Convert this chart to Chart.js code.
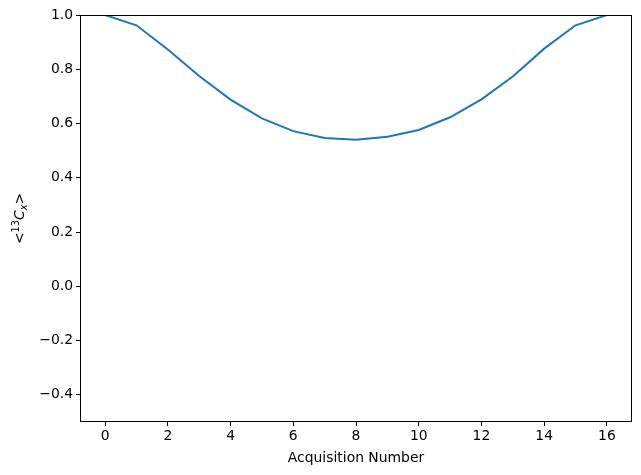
<!DOCTYPE html>
<html>
<head>
<meta charset="utf-8">
<script src="https://cdn.jsdelivr.net/npm/chart.js@4"></script>
<style>
  html, body { margin: 0; padding: 0; background: #fff; }
  #wrap { width: 641px; height: 475px; }
</style>
</head>
<body>
<div id="wrap"><canvas id="chart" width="641" height="475"></canvas></div>
<script>
// Data
const acquisitions = [0, 1, 2, 3, 4, 5, 6, 7, 8, 9, 10, 11, 12, 13, 14, 15, 16];
const cxValues = [1.0, 0.962, 0.873, 0.775, 0.688, 0.619, 0.572, 0.547, 0.540, 0.551, 0.576, 0.623, 0.689, 0.773, 0.876, 0.962, 1.0];
const xTicks = [0, 2, 4, 6, 8, 10, 12, 14, 16];
const yTicks = [-0.4, -0.2, 0.0, 0.2, 0.4, 0.6, 0.8, 1.0];

const FONT = 'DejaVu Sans';
const FS = 13.9;

const fmtY = v => (v < 0 ? '\u2212' : '') + Math.abs(v).toFixed(1);

// frame + rotated y label drawn by hand (mathtext-ish)
const framePlugin = {
    id: 'frame',
    afterDraw(chart) {
        const { ctx, chartArea: a } = chart;
        ctx.save();
        ctx.strokeStyle = '#000';
        ctx.lineWidth = 1;
        ctx.strokeRect(Math.round(a.left) + 0.5, Math.round(a.top) + 0.5,
            Math.round(a.right - a.left) - 1, Math.round(a.bottom - a.top) - 1);

        // y label: <13Cx>
        const cy = (a.top + a.bottom) / 2;
        ctx.translate(24, cy);
        ctx.rotate(-Math.PI / 2);
        ctx.fillStyle = '#000';
        ctx.textBaseline = 'alphabetic';
        const parts = [
            { t: '<', f: `${FS}px "${FONT}"`, dy: 0 },
            { t: '13', f: `${FS * 0.7}px "${FONT}"`, dy: -5 },
            { t: 'C', f: `oblique ${FS}px "${FONT}"`, dy: 0 },
            { t: 'x', f: `oblique ${FS * 0.7}px "${FONT}"`, dy: 3 },
            { t: '>', f: `${FS}px "${FONT}"`, dy: 0 }
        ];
        let w = 0;
        parts.forEach(p => { ctx.font = p.f; p.w = ctx.measureText(p.t).width; w += p.w; });
        let x = -w / 2;
        parts.forEach(p => {
            ctx.font = p.f;
            ctx.fillText(p.t, x, p.dy);
            x += p.w;
        });
        ctx.restore();
    }
};

new Chart(document.getElementById('chart'), {
    type: 'line',
    data: {
        datasets: [{
            data: acquisitions.map((a, i) => ({ x: a, y: cxValues[i] })),
            borderColor: '#1f77b4',
            borderWidth: 2,
            pointRadius: 0,
            tension: 0,
            fill: false
        }]
    },
    options: {
        responsive: false,
        animation: false,
        layout: { padding: { top: 15, right: 9, left: 0, bottom: 0 } },
        plugins: {
            legend: { display: false },
            tooltip: { enabled: false }
        },
        scales: {
            x: {
                type: 'linear',
                min: -0.8,
                max: 16.8,
                afterBuildTicks: s => { s.ticks = xTicks.map(v => ({ value: v })); },
                afterFit: s => { s.height = 53; },
                ticks: {
                    color: '#000',
                    font: { family: FONT, size: FS },
                    padding: 2,
                    maxRotation: 0,
                    autoSkip: false,
                    callback: v => String(v)
                },
                grid: { drawOnChartArea: false, drawTicks: true, tickLength: 4, color: '#000' },
                border: { display: false },
                title: {
                    display: true,
                    text: 'Acquisition Number',
                    color: '#000',
                    font: { family: FONT, size: FS },
                    padding: { top: 1, bottom: 8 }
                }
            },
            y: {
                min: -0.5,
                max: 1.0,
                afterBuildTicks: s => { s.ticks = yTicks.map(v => ({ value: v })); },
                afterFit: s => { s.width = 80; },
                ticks: {
                    color: '#000',
                    font: { family: FONT, size: FS },
                    padding: 3,
                    autoSkip: false,
                    callback: v => fmtY(v)
                },
                grid: { drawOnChartArea: false, drawTicks: true, tickLength: 4, color: '#000' },
                border: { display: false }
            }
        }
    },
    plugins: [framePlugin]
});
</script>
</body>
</html>
